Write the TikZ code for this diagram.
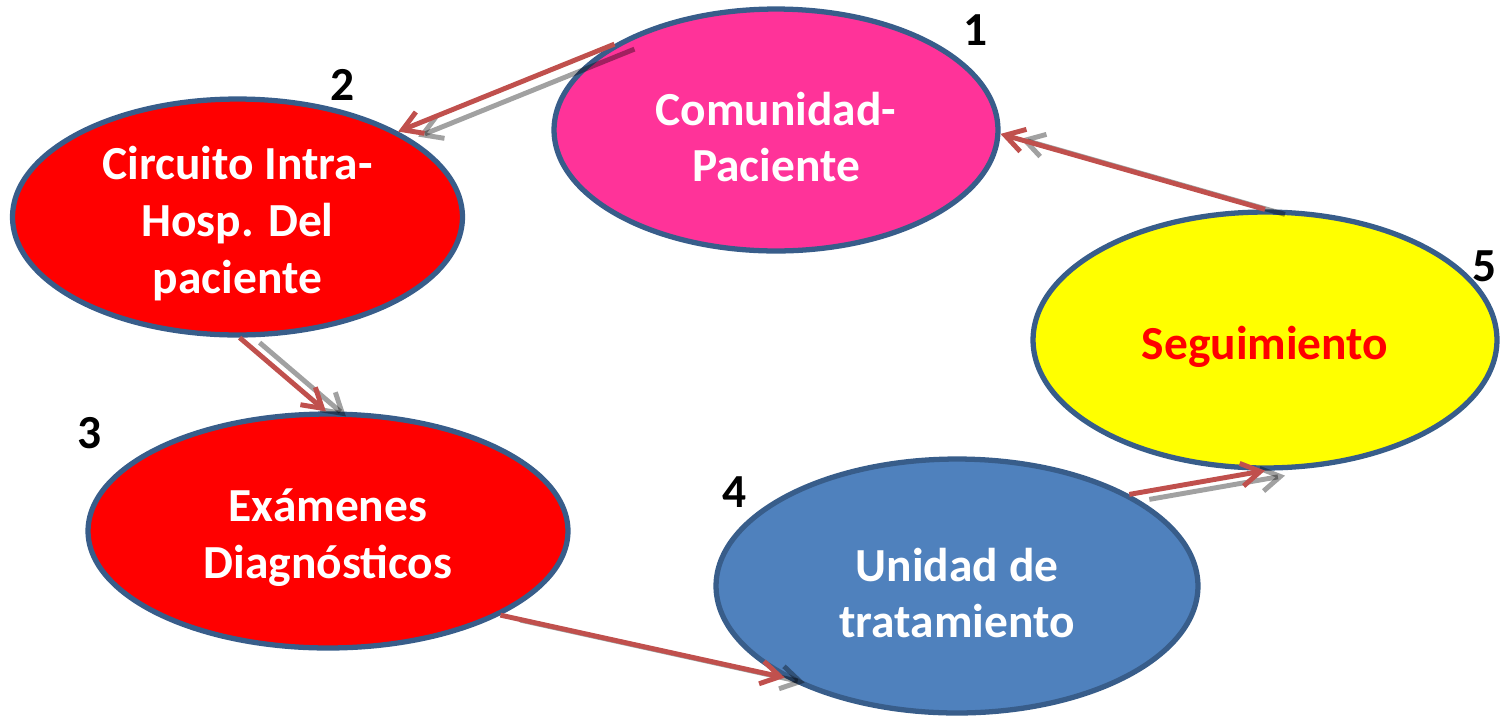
\documentclass[tikz,border=0pt]{standalone}
\usepackage{fontspec}
\setmainfont{Carlito}
\usetikzlibrary{shapes.geometric, arrows.meta}
\definecolor{pinkfill}{HTML}{FF3399}
\definecolor{redfill}{HTML}{FF0000}
\definecolor{yellowfill}{HTML}{FFFF00}
\definecolor{bluefill}{HTML}{4F81BD}
\definecolor{rimblue}{HTML}{385D8A}
\definecolor{arrowred}{HTML}{C0504D}

\begin{document}
\begin{tikzpicture}[x=0.02cm, y=-0.02cm,
        stage/.style={ellipse, draw=rimblue, line width=3pt, inner sep=0pt},
        stagetext/.style={align=center, text=white, font=\fontsize{27}{32.4}\selectfont\bfseries},
        num/.style={font=\fontsize{27}{32}\selectfont\bfseries},
        flow/.style={draw=arrowred, line width=2.8pt,
            -{Straight Barb[length=0.38cm, width=0.46cm]}},
        flowshadow/.style={flow, draw=black, opacity=0.37,
            transform canvas={shift={(20,5)}}}]
    \useasboundingbox (0,0) rectangle (1504,718);

    \node[stage, fill=pinkfill, minimum width=8.88cm, minimum height=4.84cm] (c1) at (776,130) {};
    \node[stage, fill=redfill, minimum width=9.0cm, minimum height=4.72cm] (c2) at (237.5,217) {};
    \node[stage, fill=redfill, minimum width=9.6cm, minimum height=4.68cm] (c3) at (328,531) {};
    \node[stage, fill=bluefill, minimum width=9.64cm, minimum height=5.08cm] (c4) at (957,586) {};
    \node[stage, fill=yellowfill, minimum width=9.28cm, minimum height=5.12cm] (c5) at (1265,340) {};

    \node[stagetext] (t1) at (776,137) {Comunidad-\\Paciente};
    \node[stagetext] (t2) at (237.5,224) {Circuito Intra-\\Hosp. Del\\paciente};
    \node[stagetext] (t3) at (328,538) {Exámenes\\Diagnósticos};
    \node[stagetext] (t4) at (957,593) {Unidad de\\tratamiento};
    \node[stagetext, text=red] (t5) at (1265,347) {Seguimiento};

    \node[num] (n1) at (976,30) {1};
    \node[num] (n2) at (343,85) {2};
    \node[num] (n3) at (90,433) {3};
    \node[num] (n4) at (735,492) {4};
    \node[num] (n5) at (1485,266) {5};

    % shadows first, red arrows on top
    \draw[flowshadow] (c1.152) -- (c2.28);
    \draw[flowshadow] (c2.-89) -- (c3.91);
    \draw[flowshadow] (c3.-26) -- (c4.-152);
    \draw[flowshadow] (c4.28) -- (c5.south);
    \draw[flowshadow] (c5.north) -- (c1.-1);

    \draw[flow] (c1.152) -- (c2.28);
    \draw[flow] (c2.-89) -- (c3.91);
    \draw[flow] (c3.-26) -- (c4.-152);
    \draw[flow] (c4.28) -- (c5.south);
    \draw[flow] (c5.north) -- (c1.-1);
\end{tikzpicture}
\end{document}
